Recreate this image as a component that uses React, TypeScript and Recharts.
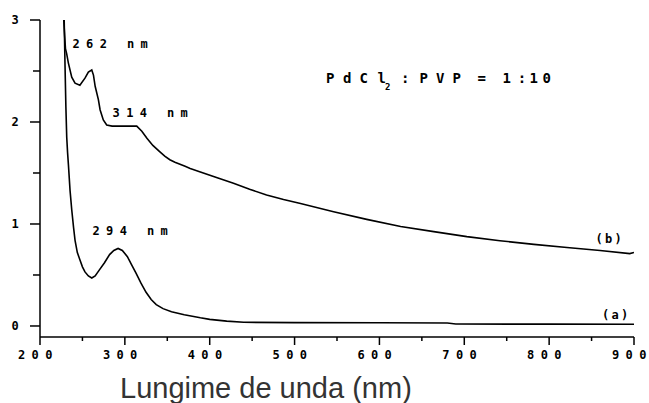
import React from 'react';
import { ComposedChart, Line, XAxis, YAxis, ReferenceDot } from 'recharts';

// Curve (a)
const waveA = [228.5, 229.5, 230.5, 231.5, 232.5, 233.5, 235.4, 237.4, 239.5, 241.3, 244, 247, 250, 253, 257, 261, 265, 270, 276, 282, 287, 292, 297, 303, 308, 313, 319, 325, 331, 337, 345, 355, 370, 389, 400, 420, 440, 500, 600, 680, 690, 800, 900];
const absA = [3.0, 2.55, 2.15, 1.85, 1.7, 1.58, 1.33, 1.14, 0.97, 0.84, 0.72, 0.65, 0.58, 0.53, 0.49, 0.47, 0.49, 0.55, 0.62, 0.7, 0.74, 0.76, 0.74, 0.68, 0.6, 0.52, 0.42, 0.33, 0.26, 0.21, 0.17, 0.14, 0.11, 0.08, 0.065, 0.048, 0.036, 0.033, 0.031, 0.029, 0.019, 0.018, 0.017];

// Curve (b)
const waveB = [228, 229, 230, 231.4, 233.4, 237.4, 241.3, 247, 253, 257, 261, 263, 265, 268.8, 270.8, 274.6, 278.6, 285, 300, 314, 320, 326, 333, 341, 347, 353, 359, 365, 371, 377, 383, 389, 408, 428, 447, 467, 487, 507, 546, 585, 625, 664, 703, 742, 782, 821, 860, 895, 900];
const absB = [3.0, 2.85, 2.72, 2.67, 2.58, 2.44, 2.38, 2.36, 2.43, 2.49, 2.51, 2.46, 2.35, 2.22, 2.12, 2.02, 1.97, 1.96, 1.96, 1.96, 1.91, 1.84, 1.77, 1.71, 1.665, 1.63, 1.605, 1.585, 1.565, 1.545, 1.528, 1.51, 1.455, 1.4, 1.34, 1.285, 1.24, 1.2, 1.12, 1.045, 0.975, 0.925, 0.876, 0.836, 0.8, 0.77, 0.74, 0.71, 0.72];

const xTicks = [200, 250, 300, 350, 400, 450, 500, 550, 600, 650, 700, 750, 800, 850, 900];
const yTicks = [0, 0.5, 1, 1.5, 2, 2.5, 3];
const xMin = 200;
const xMax = 900;
const yMin = -0.108;
const yMax = 3;

// Annotations (left edge / baseline anchor in data units)
const annotNm = [238.3, 285.5, 261.9, 854.5, 862.4];
const annotAbs = [2.725, 2.05, 0.892, 0.81, 0.07];
const annotText = ['262 nm', '314 nm', '294 nm', '(b)', '(a)'];

const ratioNm = 537;
const ratioAbs = 2.379;

const dataA = waveA.map((nm, i) => ({ nm, a: absA[i] }));
const dataB = waveB.map((nm, i) => ({ nm, b: absB[i] }));

const PIX = '"DejaVu Sans Mono", monospace';

const spaced = (s: string, x0: number, pitch: number) =>
  s.split('').map((_, i) => (x0 + i * pitch).toFixed(1)).join(' ');

const renderXTick = (props: any) => {
  const x = Number(props.x);
  const y = Number(props.y);
  const v = props.payload.value;
  const major = v % 100 === 0;
  const s = String(v);
  return (
    <g key={`xt-${v}`}>
      {major && (
        <text x={spaced(s, x - 22, 13.6)} y={y + 21.5} fontFamily={PIX} fontWeight="bold" fontSize={12} fill="#000">
          {s}
        </text>
      )}
    </g>
  );
};

const renderYTick = (props: any) => {
  const x = Number(props.x);
  const y = Number(props.y);
  const v = props.payload.value;
  const major = Number.isInteger(v);
  return (
    <g key={`yt-${v}`}>
      {major && (
        <text x={x - 25} y={y + 4} textAnchor="middle" fontFamily={PIX} fontWeight="bold" fontSize={12} fill="#000">
          {v}
        </text>
      )}
    </g>
  );
};

// tick marks drawn at data positions via ReferenceDot shapes
const xTickMark = (len: number) => (p: any) => (
  <line x1={p.cx} x2={p.cx} y1={p.cy} y2={p.cy + len} stroke="#000" strokeWidth={1.5} />
);
const yTickMark = (len: number) => (p: any) => (
  <line x1={p.cx - len} x2={p.cx} y1={p.cy} y2={p.cy} stroke="#000" strokeWidth={1.5} />
);

const annotShape = (text: string) => (p: any) => (
  <text
    x={spaced(text, p.cx, text.startsWith('(') ? 9.5 : 13.6)}
    y={p.cy}
    fontFamily={PIX}
    fontWeight="bold"
    fontSize={12}
    fill="#000"
  >
    {text}
  </text>
);

const ratioShape = (p: any) => {
  const x0 = p.cx;
  const y0 = p.cy;
  const main1 = [0, 17, 33.5, 51.5].map((d) => (x0 + d).toFixed(1)).join(' ');
  const main2 = [75, 93.5, 110, 126.5, 151.5, 176.5, 191.7, 203.5, 216.5].map((d) => (x0 + d).toFixed(1)).join(' ');
  return (
    <g fontFamily={PIX} fill="#000" fontWeight="bold">
      <text x={main1} y={y0} fontSize={14}>PdCl</text>
      <text x={x0 + 59} y={y0 + 7} fontSize={9}>2</text>
      <text x={main2} y={y0} fontSize={14}>:PVP=1:10</text>
    </g>
  );
};

const XTitle = (props: any) => {
  const vb = props.viewBox || {};
  return (
    <text x={vb.x + 80} y={vb.y + 61} fontFamily='"Liberation Sans", Arial, sans-serif' fontSize={29} fill="#333">
      Lungime de unda (nm)
    </text>
  );
};

export default function App() {
  return (
    <div style={{ position: 'absolute', left: 0, top: 0, background: '#fff' }}>
      <ComposedChart width={649} height={403} margin={{ top: 20, right: 15, bottom: 0, left: 0 }}>
        <XAxis
          type="number"
          dataKey="nm"
          domain={[xMin, xMax]}
          ticks={xTicks}
          interval={0}
          height={66}
          tickSize={0}
          tickMargin={0}
          tickLine={false}
          axisLine={{ stroke: '#000', strokeWidth: 1.5 }}
          tick={renderXTick}
          allowDataOverflow
          label={<XTitle />}
        />
        <YAxis
          type="number"
          domain={[yMin, yMax]}
          ticks={yTicks}
          interval={0}
          width={40}
          tickSize={0}
          tickMargin={0}
          tickLine={false}
          axisLine={{ stroke: '#000', strokeWidth: 1.5 }}
          tick={renderYTick}
          allowDataOverflow
        />
        <Line data={dataA} dataKey="a" type="linear" stroke="#000" strokeWidth={1.6} dot={false} isAnimationActive={false} />
        <Line data={dataB} dataKey="b" type="linear" stroke="#000" strokeWidth={1.6} dot={false} isAnimationActive={false} />
        {xTicks.map((t) => (
          <ReferenceDot key={`xm-${t}`} x={t} y={yMin} r={1} ifOverflow="visible" shape={xTickMark(t % 100 === 0 ? 8 : 4)} />
        ))}
        {yTicks.map((t) => (
          <ReferenceDot key={`ym-${t}`} x={xMin} y={t} r={1} ifOverflow="visible" shape={yTickMark(Number.isInteger(t) ? 10 : 7)} />
        ))}
        {annotText.map((t, i) => (
          <ReferenceDot key={t} x={annotNm[i]} y={annotAbs[i]} r={1} ifOverflow="visible" shape={annotShape(t)} />
        ))}
        <ReferenceDot x={ratioNm} y={ratioAbs} r={1} ifOverflow="visible" shape={ratioShape} />
      </ComposedChart>
    </div>
  );
}
